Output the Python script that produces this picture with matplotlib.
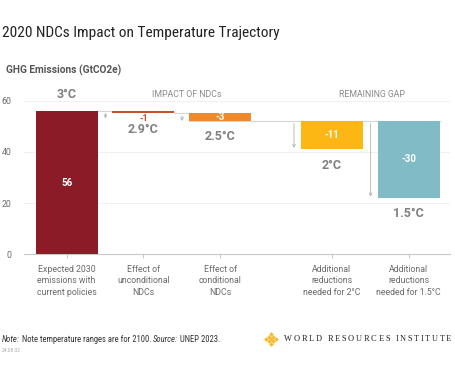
import matplotlib
matplotlib.use("Agg")
import matplotlib.pyplot as plt
from matplotlib import font_manager

# Data
categories = ["Expected 2030\nemissions with\ncurrent policies",
              "Effect of\nunconditional\nNDCs",
              "Effect of\nconditional\nNDCs",
              "Additional\nreductions\nneeded for 2°C",
              "Additional\nreductions\nneeded for 1.5°C"]
positions = [0, 1, 2, 3.46, 4.46]
tops = [56, 56, 55, 52, 52]
changes = [56, -1, -3, -11, -30]
temps = ["3°C", "2.9°C", "2.5°C", "2°C", "1.5°C"]
colors = ["#8c1b28", "#c6512a", "#ee8a2c", "#fdb714", "#80bbc6"]
yticks = [0, 20, 40, 60]

plt.rcParams['font.family'] = ['Roboto', 'DejaVu Sans']

# look for a condensed face for the title / footnote
fonts = font_manager.fontManager.ttflist
narrow = None
for f in fonts:
    if f.name in ("Roboto Condensed", "Liberation Sans Narrow", "Open Sans Condensed"):
        narrow = (f.name, "normal")
        break
if narrow is None:
    for f in fonts:
        if f.name == "DejaVu Sans" and str(f.stretch) in ("condensed", "semi-condensed", "75", "87"):
            narrow = ("DejaVu Sans", "condensed")
            break

fig = plt.figure(figsize=(4.55, 3.76), dpi=100)
ax = fig.add_axes([0.0527, 0.3237, 0.9363, 0.409])
renderer = fig.canvas.get_renderer()

width = 0.81
bottoms = []
for x, top, ch, c in zip(positions, tops, changes, colors):
    if ch > 0:
        bottom, h = 0, ch
    else:
        bottom, h = top + ch, -ch
    bottoms.append(bottom)
    ax.bar(x, h, width, bottom=bottom, color=c, zorder=3)

# connector lines
grey_line = "#d6d6d6"
ax.plot([positions[0] + width / 2, positions[1] - width / 2], [56, 56], color=grey_line, lw=0.8, zorder=2)
ax.plot([positions[1] + width / 2, positions[2] - width / 2], [55, 55], color=grey_line, lw=0.8, zorder=2)
ax.plot([positions[2] - width / 2, positions[4] + width / 2], [52, 52], color=grey_line, lw=0.8, zorder=2)

# arrows next to each reduction bar
for i in range(1, 5):
    ax_x = positions[i] - width / 2 - 0.09
    start = tops[i] - 1.0
    end = min(bottoms[i] + 0.5, start - 2.0)
    ax.annotate("", xy=(ax_x, end), xytext=(ax_x, start),
                arrowprops=dict(arrowstyle="->", color="#b0b0b0", lw=0.6,
                                mutation_scale=5, shrinkA=0, shrinkB=0))

# value labels
ax.text(positions[0], 28, "56", ha="center", va="center", color="white",
        fontsize=7, fontweight="bold", zorder=4)
ax.text(positions[1], 52.9, "-1", ha="center", va="center", color="#d24d27",
        fontsize=6.5, fontweight="bold", zorder=4)
for i in range(2, 5):
    ax.text(positions[i], tops[i] + changes[i] / 2, str(changes[i]), ha="center",
            va="center", color="white", fontsize=7, fontweight="bold", zorder=4)

# temperature labels
temp_y = [62.5, 48.6, 45.8, 34.7, 16.1]
for x, t, y in zip(positions, temps, temp_y):
    ax.text(x, y, t, ha="center", va="center", color="#808080", fontsize=9,
            fontweight="bold", clip_on=False)

# section headers
ax.text(1.57, 62.5, "IMPACT OF NDCs", ha="center", va="center", color="#8a8a8a",
        fontsize=6.3, clip_on=False)
ax.text(3.98, 62.5, "REMAINING GAP", ha="center", va="center", color="#8a8a8a",
        fontsize=6.3, clip_on=False)

ax.set_xlim(-0.557, 5.0)
ax.set_ylim(0, 60)
ax.set_yticks(yticks)
ax.set_xticks(positions)
ax.set_xticklabels(categories, fontsize=6.3, color="#6a6a6a", linespacing=1.3)
ax.tick_params(axis="y", length=0, labelsize=6.3, labelcolor="#6a6a6a", pad=9)
ax.tick_params(axis="x", length=3, color="#c8c8c8", width=0.7, pad=5)
ax.grid(axis="y", color="#f0f0f0", lw=0.8, zorder=0)
for s in ["top", "right", "left"]:
    ax.spines[s].set_visible(False)
ax.spines["bottom"].set_color("#c8c8c8")
ax.spines["bottom"].set_linewidth(0.8)
ax.set_axisbelow(True)

if narrow:
    narrow_kw = dict(family=[narrow[0], "DejaVu Sans"], fontstretch=narrow[1])
else:
    narrow_kw = dict(fontweight="light")

# title, sized to the reference width
title = fig.text(2 / 455, 1 - 33 / 376, "2020 NDCs Impact on Temperature Trajectory",
                 color="#222222", va="center", ha="left", fontsize=12, **narrow_kw)
title.set_fontsize(12 * 277 / title.get_window_extent(renderer).width)
fig.text(6 / 455, 1 - 70 / 376, "GHG Emissions (GtCO2e)", fontsize=7.3,
         fontweight="bold", color="#555555", va="center", ha="left")

# footnote, pieces placed one after another
pieces = [("Note:", "italic"), (" Note temperature ranges are for 2100. ", "normal"),
          ("Source:", "italic"), (" UNEP 2023.", "normal")]
note_size = 7
probe = fig.text(0, 0, "".join(p for p, s in pieces), fontsize=note_size, **narrow_kw)
note_size = note_size * 224 / probe.get_window_extent(renderer).width
probe.remove()
xpos = 2
for txt, style in pieces:
    t = fig.text(xpos / 455, 1 - 340 / 376, txt, color="#333333", va="center",
                 ha="left", fontstyle=style, fontsize=note_size, **narrow_kw)
    xpos += t.get_window_extent(renderer).width
fig.text(2 / 455, 1 - 351 / 376, "24.08.02", fontsize=3.5, color="#aaaaaa",
         va="center", ha="left")

# logo
lx, ly = 271 / 455, 1 - 339 / 376
dx, dy = 2.4 / 455, 2.4 / 376
pts = [(i, j) for i in range(-3, 4) for j in range(-3, 4) if abs(i) + abs(j) <= 3 and (i + j) % 2 == 0]
fig.add_artist(plt.Line2D([lx + i * dx for i, j in pts], [ly + j * dy for i, j in pts],
                          transform=fig.transFigure, ls="none", marker="D",
                          markersize=2.2, color="#f5b52e", mec="#fbd36a", mew=0.4))
xpos = 284
for ch in "WORLD RESOURCES INSTITUTE":
    if ch == " ":
        xpos += 3.8
        continue
    t = fig.text(xpos / 455, ly, ch, fontsize=6.0, color="#222222", va="center",
                 ha="left", family=["Liberation Serif", "DejaVu Serif"])
    xpos += t.get_window_extent(renderer).width + 1.7

fig.savefig("out.png", dpi=100)
